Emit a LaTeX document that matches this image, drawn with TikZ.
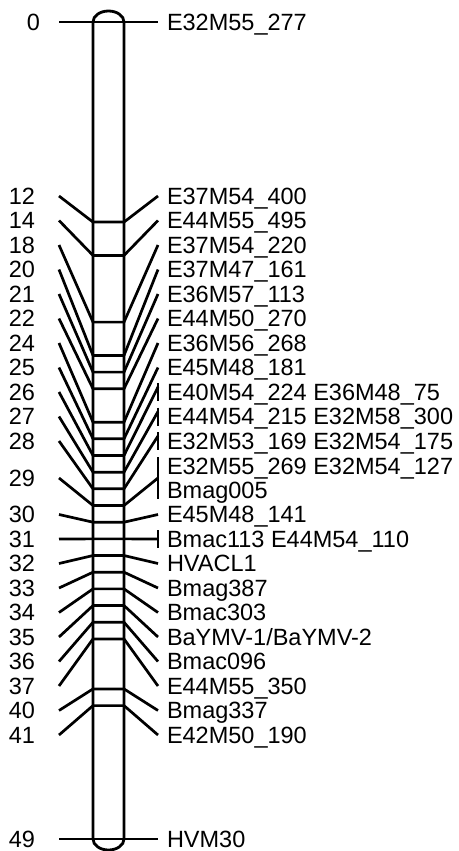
\documentclass[tikz,border=0pt]{standalone}
\usepackage{fontspec}
\setmainfont{Liberation Sans}
\begin{document}
\begin{tikzpicture}[x=1pt,y=-1pt,
  lbl/.style={font=\fontsize{23.5}{28}\selectfont, inner sep=0pt, outer sep=0pt},
  numlbl/.style={lbl, anchor=base east},
  mklbl/.style={lbl, anchor=base west},
  conn/.style={line width=2.7pt, line join=round},
  chrom/.style={line width=2.8pt}]
\useasboundingbox (0,0) rectangle (458,851);

% top and bottom markers (straight through the bar)
\coordinate (L0) at (59,22);  \coordinate (R0) at (158,22);
\node[numlbl] (N0) at (40,30.4) {0};
\node[mklbl] (M0) at (167,30.4) {E32M55\_277};
\draw[conn] (L0) -- (R0);
\coordinate (L49) at (59,839); \coordinate (R49) at (158,839);
\node[numlbl] (N49) at (35,847.4) {49};
\node[mklbl] (M49) at (167,847.4) {HVM30};
\draw[conn] (L49) -- (R49);

% simple rows
\foreach \c/\k/\t in {12/0/E37M54\_400, 14/1/E44M55\_495, 18/2/E37M54\_220,
  20/3/E37M47\_161, 21/4/E36M57\_113, 22/5/E44M50\_270, 24/6/E36M56\_268,
  25/7/E45M48\_181, 30/13/E45M48\_141, 32/15/HVACL1, 33/16/Bmag387,
  34/17/Bmac303, 35/18/{BaYMV-1/BaYMV-2}, 36/19/Bmac096, 37/20/E44M55\_350,
  40/21/Bmag337, 41/22/E42M50\_190}{
  \pgfmathsetmacro\ly{196+24.5*\k}
  \pgfmathsetmacro\by{22+\c*16.673}
  \coordinate (L\c) at (59,\ly);
  \coordinate (B\c) at (93,\by);
  \coordinate (C\c) at (124,\by);
  \coordinate (R\c) at (158,\ly);
  \node[numlbl] (N\c) at (35,\ly+8.4) {\c};
  \node[mklbl] (M\c) at (167,\ly+8.4) {\t};
  \draw[conn] (L\c) -- (B\c) -- (C\c) -- (R\c);
}

% rows with a short tick (several markers)
\foreach \c/\k/\t/\off in {26/8/E40M54\_224 E36M48\_75/-5, 27/9/E44M54\_215 E32M58\_300/-5,
  28/10/E32M53\_169 E32M54\_175/-5, 31/14/Bmac113 E44M54\_110/0}{
  \pgfmathsetmacro\ly{196+24.5*\k}
  \pgfmathsetmacro\by{22+\c*16.673}
  \coordinate (L\c) at (59,\ly);
  \coordinate (B\c) at (93,\by);
  \coordinate (C\c) at (124,\by);
  \coordinate (R\c) at (158,\ly+\off);
  \coordinate (Ta\c) at (158,\ly-9);
  \coordinate (Tb\c) at (158,\ly+9);
  \node[numlbl] (N\c) at (35,\ly+8.4) {\c};
  \node[mklbl] (M\c) at (167,\ly+8.4) {\t};
  \draw[conn] (L\c) -- (B\c) -- (C\c) -- (R\c);
  \draw[conn] (Ta\c) -- (Tb\c);
}

% row 29 (two label lines)
\coordinate (L29) at (59,478);
\coordinate (B29) at (93,505.5);
\coordinate (C29) at (124,505.5);
\coordinate (R29) at (158,478);
\coordinate (Ta29) at (158,457);
\coordinate (Tb29) at (158,499);
\node[numlbl] (N29) at (35,486.4) {29};
\node[mklbl] (M29a) at (167,474.2) {E32M55\_269 E32M54\_127};
\node[mklbl] (M29b) at (167,498.7) {Bmag005};
\draw[conn] (L29) -- (B29) -- (C29) -- (R29);
\draw[conn] (Ta29) -- (Tb29);

% chromosome bar
\draw[chrom] (93,22) -- (93,839)
  .. controls (93,845.1) and (99.94,850) .. (108.5,850)
  .. controls (117.06,850) and (124,845.1) .. (124,839)
  -- (124,22)
  .. controls (124,15.9) and (117.06,11) .. (108.5,11)
  .. controls (99.94,11) and (93,15.9) .. (93,22) -- cycle;
\end{tikzpicture}
\end{document}
